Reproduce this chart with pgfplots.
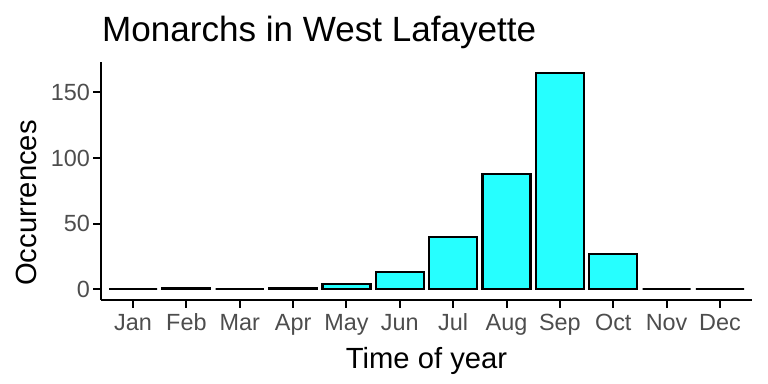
\documentclass[border=0pt]{standalone}
\usepackage{pgfplots}
\pgfplotsset{compat=1.18}
\usepackage{fontspec}
\setmainfont{Liberation Sans}
\definecolor{gray30}{HTML}{4D4D4D}
\definecolor{barcyan}{HTML}{26FFFF}
\begin{document}
\begin{tikzpicture}
\useasboundingbox (0,0) rectangle (768bp,384bp);
\begin{axis}[
  at={(101bp,84bp)}, anchor=south west,
  scale only axis, width=651bp, height=238bp,
  xmin=0.4, xmax=12.6, ymin=-8.25, ymax=173.25,
  axis x line*=bottom, axis y line*=left,
  axis line style={-, line width=2.2bp, black},
  xtick={1,...,12},
  xticklabels={Jan,Feb,Mar,Apr,May,Jun,Jul,Aug,Sep,Oct,Nov,Dec},
  ytick={0,50,100,150},
  yticklabels={0,50,100,150},
  tick align=outside,
  major tick length=7.5bp,
  tick style={line width=2bp, black},
  ticklabel style={font=\fontsize{23.5}{28}\selectfont, text=gray30},
  xticklabel style={yshift=-3bp},
  ybar, bar width=0.9,
  clip=false,
]
\addplot[fill=barcyan, draw=black, line width=2.2bp] coordinates {
  (1,0) (2,1) (3,0) (4,1) (5,4) (6,13) (7,40) (8,88) (9,165) (10,27) (11,0) (12,0)
};
\end{axis}
\node[anchor=base west, inner sep=0, font=\fontsize{35.2}{42}\selectfont] at (102bp,342bp) {Monarchs in West Lafayette};
\node[anchor=base, inner sep=0, font=\fontsize{29.3}{35}\selectfont] at (426.5bp,16bp) {Time of year};
\node[anchor=base, inner sep=0, rotate=90, font=\fontsize{29.3}{35}\selectfont] at (36bp,181bp) {Occurrences};
\end{tikzpicture}
\end{document}
